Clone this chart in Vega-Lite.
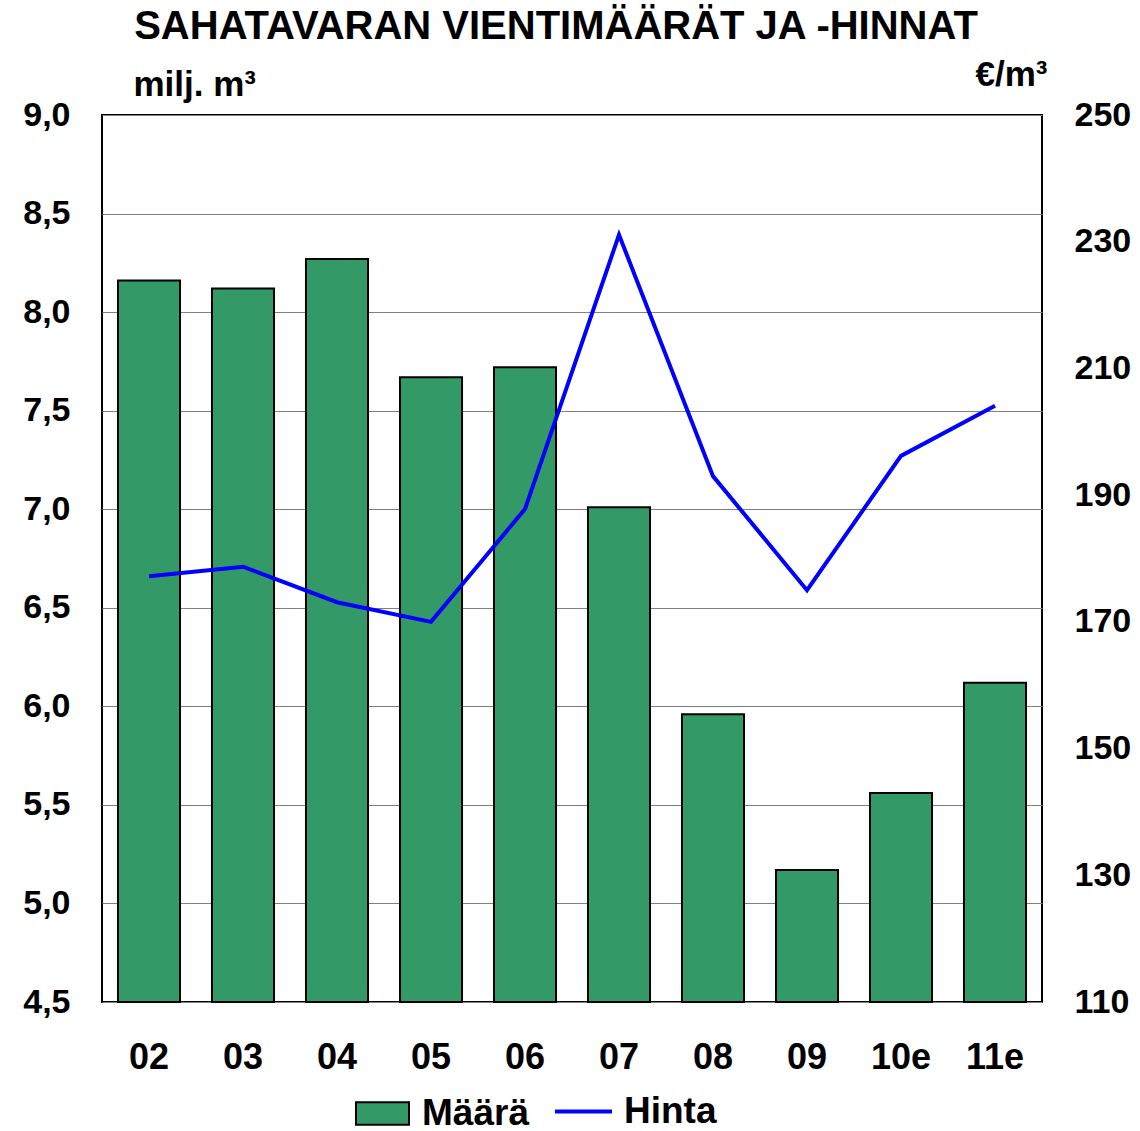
{
  "$schema": "https://vega.github.io/schema/vega-lite/v6.json",
  "width": 940,
  "height": 887,
  "autosize": {"type": "none"},
  "padding": {"left": 102, "top": 115, "right": 98, "bottom": 129},
  "background": "white",
  "title": {
    "text": "SAHATAVARAN VIENTIMÄÄRÄT JA -HINNAT",
    "font": "Liberation Sans",
    "fontSize": 40,
    "fontWeight": "bold",
    "color": "black",
    "anchor": "middle",
    "frame": "group",
    "baseline": "alphabetic",
    "offset": 0,
    "dy": 22,
    "dx": -16
  },
  "data": {
    "values": [
      {"vuosi": "02", "maara": 8.16, "hinta": 177.2},
      {"vuosi": "03", "maara": 8.12, "hinta": 178.7},
      {"vuosi": "04", "maara": 8.27, "hinta": 173.1},
      {"vuosi": "05", "maara": 7.67, "hinta": 170.0},
      {"vuosi": "06", "maara": 7.72, "hinta": 187.8},
      {"vuosi": "07", "maara": 7.01, "hinta": 231.1},
      {"vuosi": "08", "maara": 5.96, "hinta": 193.0},
      {"vuosi": "09", "maara": 5.17, "hinta": 175.0},
      {"vuosi": "10e", "maara": 5.56, "hinta": 196.2},
      {"vuosi": "11e", "maara": 6.12, "hinta": 204.1}
    ]
  },
  "encoding": {
    "x": {
      "field": "vuosi",
      "type": "nominal",
      "sort": null,
      "scale": {"paddingInner": 0.34, "paddingOuter": 0.17},
      "axis": {
        "title": null,
        "labelAngle": 0,
        "labelFont": "Liberation Sans",
        "labelFontSize": 36,
        "labelFontWeight": "bold",
        "labelColor": "black",
        "labelPadding": 38,
        "ticks": false,
        "domain": false
      }
    }
  },
  "layer": [
    {
      "mark": {"type": "bar", "stroke": "black", "strokeWidth": 2},
      "encoding": {
        "y": {
          "field": "maara",
          "type": "quantitative",
          "scale": {"domain": [4.5, 9], "zero": false, "nice": false},
          "axis": {
            "values": [4.5, 5, 5.5, 6, 6.5, 7, 7.5, 8, 8.5, 9],
            "labelExpr": "replace(format(datum.value, '.1f'), '.', ',')",
            "grid": true,
            "gridColor": "#808080",
            "gridWidth": 1,
            "gridOpacity": 1,
            "ticks": false,
            "domain": false,
            "labelFont": "Liberation Sans",
            "labelFontSize": 34,
            "labelFontWeight": "bold",
            "labelColor": "black",
            "labelPadding": 32,
            "title": "milj. m³",
            "titleAngle": 0,
            "titleAlign": "left",
            "titleBaseline": "alphabetic",
            "titleX": 31,
            "titleY": -20,
            "titleFont": "Liberation Sans",
            "titleFontSize": 35,
            "titleFontWeight": "bold",
            "titleColor": "black"
          }
        },
        "y2": {"datum": 4.5},
        "fill": {
          "datum": "Määrä",
          "scale": {"range": ["#339966"]},
          "legend": {
            "orient": "none",
            "legendX": 253,
            "legendY": 971,
            "title": null,
            "padding": 0,
            "symbolType": "M-1,-0.42H1V0.42H-1Z",
            "symbolSize": 2809,
            "symbolStrokeColor": "black",
            "symbolStrokeWidth": 2,
            "symbolOpacity": 1,
            "labelFont": "Liberation Sans",
            "labelFontSize": 37,
            "labelFontWeight": "bold",
            "labelColor": "black",
            "labelOffset": 12
          }
        }
      }
    },
    {
      "mark": {"type": "line", "strokeWidth": 4},
      "encoding": {
        "y": {
          "field": "hinta",
          "type": "quantitative",
          "scale": {"domain": [110, 250], "zero": false, "nice": false},
          "axis": {
            "orient": "right",
            "values": [110, 130, 150, 170, 190, 210, 230, 250],
            "grid": false,
            "ticks": false,
            "domain": false,
            "labelFont": "Liberation Sans",
            "labelFontSize": 34,
            "labelFontWeight": "bold",
            "labelColor": "black",
            "labelPadding": 32,
            "title": "€/m³",
            "titleAngle": 0,
            "titleAlign": "right",
            "titleBaseline": "alphabetic",
            "titleX": 5,
            "titleY": -30,
            "titleFont": "Liberation Sans",
            "titleFontSize": 35,
            "titleFontWeight": "bold",
            "titleColor": "black"
          }
        },
        "stroke": {
          "datum": "Hinta",
          "scale": {"range": ["#0000ff"]},
          "legend": {
            "orient": "none",
            "legendX": 451,
            "legendY": 966,
            "title": null,
            "padding": 0,
            "symbolType": "stroke",
            "symbolSize": 3249,
            "symbolStrokeWidth": 4,
            "labelFont": "Liberation Sans",
            "labelFontSize": 37,
            "labelFontWeight": "bold",
            "labelColor": "black",
            "labelOffset": 10
          }
        }
      }
    }
  ],
  "resolve": {"scale": {"y": "independent"}},
  "config": {
    "view": {"stroke": "black", "strokeWidth": 2}
  }
}
